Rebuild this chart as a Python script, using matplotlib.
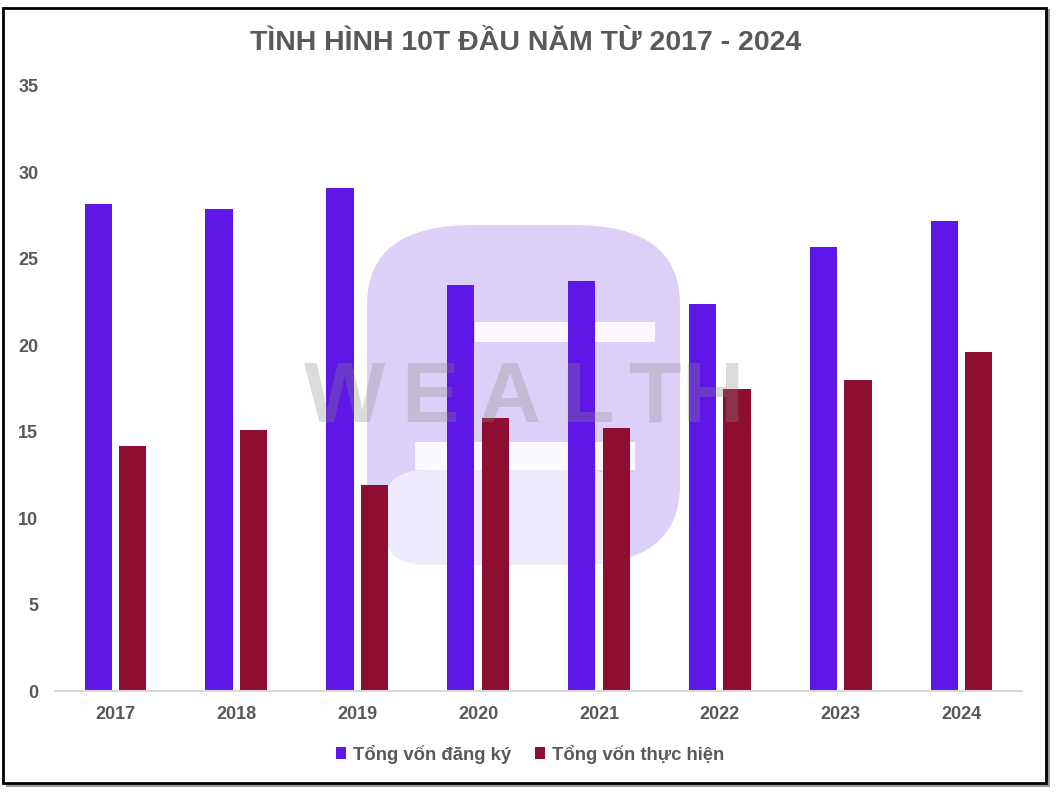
import matplotlib
matplotlib.use("Agg")
import matplotlib.pyplot as plt
from matplotlib.patches import Rectangle, FancyBboxPatch
import numpy as np

years = ["2017", "2018", "2019", "2020", "2021", "2022", "2023", "2024"]
registered = [28.2, 27.9, 29.1, 23.5, 23.7, 22.4, 25.7, 27.2]
implemented = [14.2, 15.1, 11.9, 15.8, 15.2, 17.5, 18.0, 19.6]
series_names = ["Tổng vốn đăng ký", "Tổng vốn thực hiện"]
title = "TÌNH HÌNH 10T ĐẦU NĂM TỪ 2017 - 2024"
yticks = [0, 5, 10, 15, 20, 25, 30, 35]

BLUE = "#5e17e6"
RED = "#8d0e30"
TXT = "#595959"
FONT = ["Liberation Sans", "DejaVu Sans"]
plt.rcParams["font.family"] = FONT

W, H = 1060, 793
fig = plt.figure(figsize=(W / 100, H / 100), dpi=100)
fig.patch.set_facecolor("white")

# frame with shadow
fig.add_artist(Rectangle((6 / W, 1 - 787 / H), 1044 / W, 778 / H, transform=fig.transFigure,
                         facecolor="#9a9a9a", edgecolor="none", zorder=0))
fig.add_artist(Rectangle((3 / W, 1 - 783 / H), 1043 / W, 775 / H, transform=fig.transFigure,
                         facecolor="white", edgecolor="black", linewidth=2, zorder=0.5))

# watermark logo behind the bars (decorative)
fig.add_artist(FancyBboxPatch((367 / W, 1 - 565 / H), 313 / W, 340 / H,
                              boxstyle="round,pad=0,rounding_size=0.1",
                              transform=fig.transFigure, facecolor="#dcd0f8",
                              edgecolor="none", zorder=0.6))
fig.add_artist(FancyBboxPatch((385 / W, 1 - 565 / H), 240 / W, 95 / H,
                              boxstyle="round,pad=0,rounding_size=0.04",
                              transform=fig.transFigure, facecolor="#efeafc",
                              edgecolor="none", zorder=0.65))
fig.add_artist(Rectangle((475 / W, 1 - 342 / H), 180 / W, 20 / H, transform=fig.transFigure,
                         facecolor="#fbf9ff", edgecolor="none", zorder=0.7))
fig.add_artist(Rectangle((415 / W, 1 - 470 / H), 220 / W, 28 / H, transform=fig.transFigure,
                         facecolor="#fbf9ff", edgecolor="none", zorder=0.7))

ax = fig.add_axes([55 / W, 102 / H, 967 / W, 605 / H])
ax.set_zorder(1)
ax.set_facecolor("none")
x = np.arange(len(years))
bw = 0.225
off = 0.143
ax.bar(x - off, registered, width=bw, color=BLUE, label=series_names[0], zorder=2)
ax.bar(x + off, implemented, width=bw, color=RED, label=series_names[1], zorder=2)

ax.set_xlim(-0.5, len(years) - 0.5)
ax.set_ylim(0, 35)
ax.set_yticks(yticks)
ax.set_yticklabels([str(v) for v in yticks])
ax.set_xticks(x)
ax.set_xticklabels(years)
for s in ["top", "right", "left"]:
    ax.spines[s].set_visible(False)
ax.spines["bottom"].set_color("#d9d9d9")
ax.spines["bottom"].set_linewidth(1.5)
ax.tick_params(axis="both", length=0, colors=TXT, labelsize=13)
ax.tick_params(axis="y", pad=12)
ax.tick_params(axis="x", pad=11)
for lab in ax.get_xticklabels() + ax.get_yticklabels():
    lab.set_fontweight("bold")
    lab.set_color(TXT)

fig.text(526 / W, 1 - 43 / H, title, ha="center", va="center", fontsize=20.5,
         fontweight="bold", color=TXT)

leg = fig.legend(loc="center", bbox_to_anchor=(530 / W, 1 - 754 / H), ncol=2,
                 frameon=False, fontsize=13.3, handlelength=0.55, handleheight=0.55,
                 handletextpad=0.35, columnspacing=1.3)
leg.set_zorder(7)
for t in leg.get_texts():
    t.set_color(TXT)
    t.set_fontweight("bold")

letters = ["W", "E", "A", "L", "T", "H"]
lx = [345, 430, 510, 588, 655, 712]
for L, xx in zip(letters, lx):
    fig.text(xx / W, 1 - 400 / H, L, ha="center", va="center", fontsize=62,
             fontweight="bold", color="#8a8a8a", alpha=0.3, zorder=6)

fig.savefig("out.png", dpi=100)
